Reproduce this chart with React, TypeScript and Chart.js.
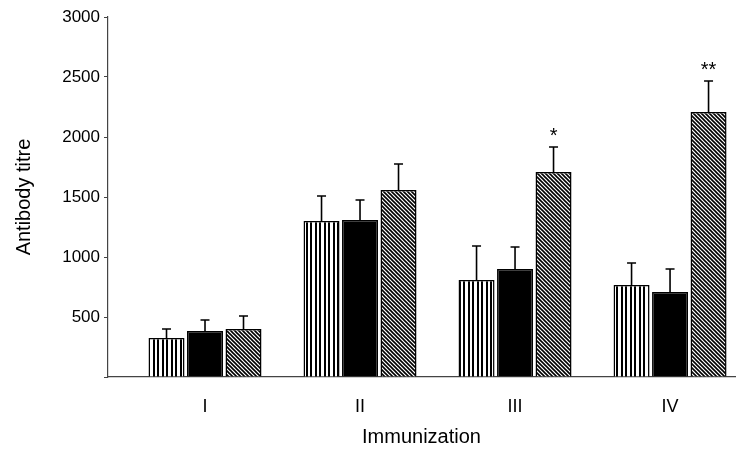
import React, { useEffect, useRef } from 'react';
import { Chart, registerables } from 'chart.js';

Chart.register(...registerables);

// ---- data ----
const groupPositions = [1, 2, 3, 4];
const groupLabels = ['I', 'II', 'III', 'IV'];

const stripedValues = [325, 1300, 808, 767];
const stripedErrors = [75, 208, 284, 183];

const solidValues = [383, 1308, 900, 708];
const solidErrors = [92, 167, 183, 192];

const hatchedValues = [400, 1558, 1708, 2208];
const hatchedErrors = [108, 217, 209, 259];
const hatchedMarks = ['', '', '*', '**'];

const yMin = 0;
const yMax = 3000;
const yStep = 500;

const xTitle = 'Immunization';
const yTitle = 'Antibody titre';

const FONT = '"Liberation Sans", Arial, Helvetica, sans-serif';

function makeStripes(): CanvasPattern | string {
  const c = document.createElement('canvas');
  c.width = 9;
  c.height = 4;
  const g = c.getContext('2d');
  if (!g) return '#fff';
  g.fillStyle = '#fff';
  g.fillRect(0, 0, 9, 4);
  g.fillStyle = '#000';
  g.fillRect(0, 0, 2, 4);
  g.fillRect(4, 0, 2, 4);
  return g.createPattern(c, 'repeat') || '#fff';
}

function makeHatch(): CanvasPattern | string {
  const s = 4;
  const c = document.createElement('canvas');
  c.width = s;
  c.height = s;
  const g = c.getContext('2d');
  if (!g) return '#888';
  g.fillStyle = '#fff';
  g.fillRect(0, 0, s, s);
  g.strokeStyle = '#000';
  g.lineWidth = 1.6;
  for (const o of [-s, 0, s]) {
    g.beginPath();
    g.moveTo(o - 1, -1);
    g.lineTo(o + s + 1, s + 1);
    g.stroke();
  }
  return g.createPattern(c, 'repeat') || '#888';
}

const errorSets = [stripedErrors, solidErrors, hatchedErrors];
const markSets = [[], [], hatchedMarks] as string[][];

const errorBarPlugin = {
  id: 'errorBars',
  afterDatasetsDraw(chart: any) {
    const ctx = chart.ctx as CanvasRenderingContext2D;
    const yScale = chart.scales.y;
    chart.data.datasets.forEach((ds: any, di: number) => {
      const meta = chart.getDatasetMeta(di);
      const errs = errorSets[di] || [];
      const marks = markSets[di] || [];
      meta.data.forEach((bar: any, i: number) => {
        const v = ds.data[i].y as number;
        const top = yScale.getPixelForValue(v + (errs[i] || 0));
        const x = bar.x;
        ctx.save();
        ctx.strokeStyle = '#000';
        ctx.lineWidth = 1.6;
        ctx.beginPath();
        ctx.moveTo(x, bar.y);
        ctx.lineTo(x, top);
        ctx.moveTo(x - 4.5, top);
        ctx.lineTo(x + 4.5, top);
        ctx.stroke();
        if (marks[i]) {
          ctx.fillStyle = '#000';
          ctx.font = `20px ${FONT}`;
          ctx.textAlign = 'center';
          ctx.textBaseline = 'alphabetic';
          ctx.fillText(marks[i], x, top - 5);
        }
        ctx.restore();
      });
    });
  },
};

export default function App() {
  const canvasRef = useRef<HTMLCanvasElement | null>(null);

  useEffect(() => {
    document.body.style.margin = '0';
    const canvas = canvasRef.current;
    if (!canvas) return;
    const toPoints = (vals: number[]) => groupPositions.map((x, i) => ({ x, y: vals[i] }));
    const common = {
      borderColor: '#000',
      borderWidth: 1.5,
      categoryPercentage: 0.745,
      barPercentage: 0.935,
    };
    const chart = new Chart(canvas, {
      type: 'bar',
      data: {
        datasets: [
          { label: 'A', data: toPoints(stripedValues), backgroundColor: makeStripes() as any, ...common },
          { label: 'B', data: toPoints(solidValues), backgroundColor: '#000', ...common },
          { label: 'C', data: toPoints(hatchedValues), backgroundColor: makeHatch() as any, ...common },
        ] as any,
      },
      options: {
        animation: false,
        responsive: false,
        devicePixelRatio: 1,
        layout: { padding: { left: 0, right: 15, top: 17, bottom: 0 } },
        plugins: {
          legend: { display: false },
          tooltip: { enabled: false },
        },
        scales: {
          x: {
            type: 'linear',
            position: 'bottom',
            min: 0.3742,
            max: 4.419,
            offset: false,
            afterBuildTicks: (s: any) => {
              s.ticks = groupPositions.map((v) => ({ value: v }));
            },
            afterFit: (s: any) => {
              s.height = 76;
            },
            grid: { display: false, offset: false },
            border: { display: true, color: '#444', width: 1.2 },
            ticks: {
              color: '#000',
              font: { family: FONT, size: 18 },
              padding: 11,
              maxRotation: 0,
              autoSkip: false,
              callback: (value: any) => {
                const idx = groupPositions.indexOf(Number(value));
                return idx >= 0 ? groupLabels[idx] : '';
              },
            },
            title: {
              display: true,
              text: xTitle,
              color: '#000',
              font: { family: FONT, size: 20 },
              padding: { top: 0, bottom: 4 },
            },
          },
          y: {
            type: 'linear',
            min: yMin,
            max: yMax,
            afterFit: (s: any) => {
              s.width = 108;
            },
            grid: {
              display: true,
              drawOnChartArea: false,
              drawTicks: true,
              tickLength: 4,
              color: '#444',
            },
            border: { display: true, color: '#444', width: 1.2 },
            ticks: {
              stepSize: yStep,
              color: '#000',
              font: { family: FONT, size: 17 },
              padding: 4,
              callback: (value: any) => (Number(value) === 0 ? '' : String(value)),
            },
            title: {
              display: true,
              text: yTitle,
              color: '#000',
              font: { family: FONT, size: 20 },
              padding: { top: 12, bottom: 0 },
            },
          },
        },
      },
      plugins: [errorBarPlugin],
    });
    return () => chart.destroy();
  }, []);

  return (
    <div style={{ width: 750, height: 453, background: '#fff' }}>
      <canvas ref={canvasRef} width={750} height={453} style={{ display: 'block' }} />
    </div>
  );
}
